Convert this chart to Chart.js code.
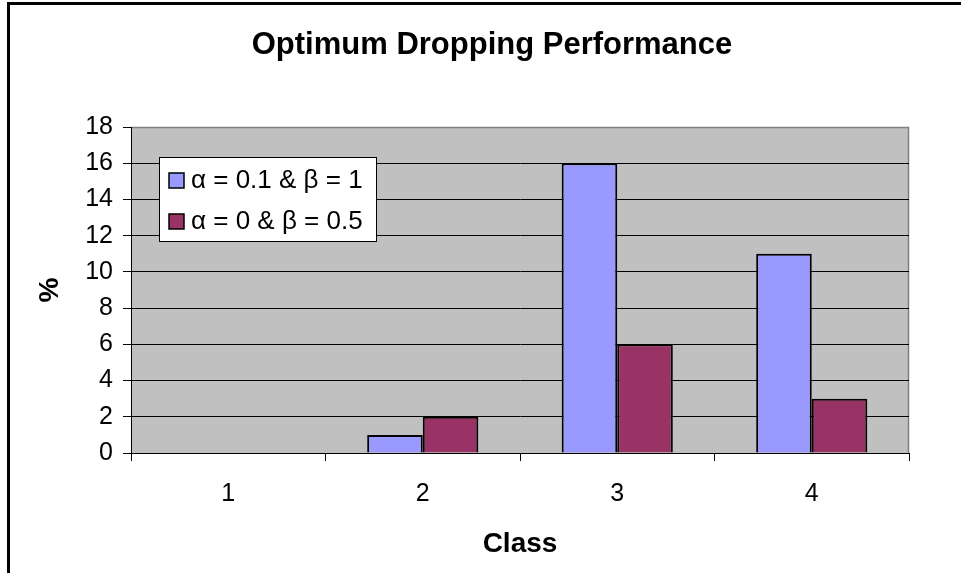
<!DOCTYPE html>
<html>
<head>
<meta charset="utf-8">
<script src="https://cdn.jsdelivr.net/npm/chart.js@4.4.1/dist/chart.umd.min.js"></script>
<style>
  html, body { margin: 0; padding: 0; background: #fff; }
  #wrap { width: 961px; height: 573px; }
</style>
</head>
<body>
<div id="wrap"><canvas id="c" width="961" height="573"></canvas></div>
<script>
// Dropping percentage per traffic class for two parameter settings
const chartTitle = 'Optimum Dropping Performance';
const classes = ['1', '2', '3', '4'];
const seriesNames = ['\u03b1 = 0.1 & \u03b2 = 1', '\u03b1 = 0 & \u03b2 = 0.5'];
const alpha01Beta1 = [0, 1, 16, 11];
const alpha0Beta05 = [0, 2, 6, 3];
const seriesColors = ['#9999FF', '#993366'];
const yTicks = [0, 2, 4, 6, 8, 10, 12, 14, 16, 18];

const FONT = "'Liberation Sans', Arial, sans-serif";

// White page, frame lines, heading and grey plot background
const backdrop = {
  id: 'backdrop',
  beforeDraw(chart) {
    const { ctx, chartArea: a } = chart;
    ctx.save();
    ctx.fillStyle = '#fff';
    ctx.fillRect(0, 0, chart.width, chart.height);
    ctx.fillStyle = '#000';
    ctx.fillRect(7, 2, 3, chart.height - 2);
    ctx.fillRect(7, 2, chart.width - 7, 3);
    ctx.font = 'bold 31px ' + FONT;
    ctx.textAlign = 'center';
    ctx.textBaseline = 'middle';
    ctx.fillText(chartTitle, 492, 45);
    ctx.fillStyle = '#C0C0C0';
    ctx.fillRect(a.left, a.top, a.right - a.left, a.bottom - a.top);
    ctx.strokeStyle = '#808080';
    ctx.lineWidth = 1.5;
    ctx.beginPath();
    ctx.moveTo(a.left, a.top + 0.5);
    ctx.lineTo(a.right - 0.5, a.top + 0.5);
    ctx.lineTo(a.right - 0.5, a.bottom);
    ctx.stroke();
    ctx.restore();
  }
};

// Boxed legend placed inside the plot area
const boxLegend = {
  id: 'boxLegend',
  afterDatasetsDraw(chart) {
    const { ctx, chartArea: a } = chart;
    const x = a.left + 28, y = a.top + 30, w = 217, h = 84;
    ctx.save();
    ctx.fillStyle = '#fff';
    ctx.fillRect(x, y, w, h);
    ctx.strokeStyle = '#000';
    ctx.lineWidth = 1;
    ctx.strokeRect(x + 0.5, y + 0.5, w, h);
    ctx.font = '26px ' + FONT;
    ctx.textBaseline = 'middle';
    chart.data.datasets.forEach((ds, i) => {
      const cy = y + 23 + i * 41;
      ctx.fillStyle = ds.backgroundColor;
      ctx.fillRect(x + 10, cy - 7, 15, 15);
      ctx.strokeStyle = '#000';
      ctx.lineWidth = 1.5;
      ctx.strokeRect(x + 10, cy - 7, 15, 15);
      ctx.fillStyle = '#000';
      ctx.fillText(ds.label, x + 32, cy + 1);
    });
    ctx.restore();
  }
};

new Chart(document.getElementById('c'), {
  type: 'bar',
  data: {
    labels: classes,
    datasets: [
      { label: seriesNames[0], data: alpha01Beta1, backgroundColor: seriesColors[0] },
      { label: seriesNames[1], data: alpha0Beta05, backgroundColor: seriesColors[1] }
    ]
  },
  plugins: [backdrop, boxLegend],
  options: {
    responsive: false,
    animation: false,
    devicePixelRatio: 1,
    layout: { padding: { left: 8, right: 52, top: 127, bottom: 0 } },
    datasets: {
      bar: {
        categoryPercentage: 2 / 3.5,
        barPercentage: 1,
        borderColor: '#000',
        borderWidth: 2
      }
    },
    plugins: {
      legend: { display: false },
      tooltip: { enabled: false },
      title: { display: false }
    },
    scales: {
      x: {
        afterFit(s) { s.height = 120; },
        grid: { display: true, drawOnChartArea: false, drawTicks: true, tickLength: 8, color: '#000', offset: true },
        border: { color: '#000', width: 1 },
        ticks: { color: '#000', font: { family: FONT, size: 25 }, padding: 18 },
        title: {
          display: true, text: 'Class', color: '#000',
          font: { family: FONT, size: 28, weight: 'bold' },
          padding: { top: 0, bottom: 12 }
        }
      },
      y: {
        min: 0, max: 18,
        afterFit(s) { s.width = 123; },
        afterBuildTicks(s) { s.ticks = yTicks.map(v => ({ value: v })); },
        grid: {
          color: ctx => (ctx.tick && ctx.tick.value === 18 ? '#808080' : '#000'),
          lineWidth: 1, tickLength: 8, tickColor: '#000'
        },
        border: { color: '#000', width: 1 },
        ticks: { color: '#000', font: { family: FONT, size: 25 }, padding: 10 },
        title: {
          display: true, text: '%', color: '#000',
          font: { family: FONT, size: 28, weight: 'bold' },
          padding: { top: 25, bottom: 0 }
        }
      }
    }
  }
});
</script>
</body>
</html>
